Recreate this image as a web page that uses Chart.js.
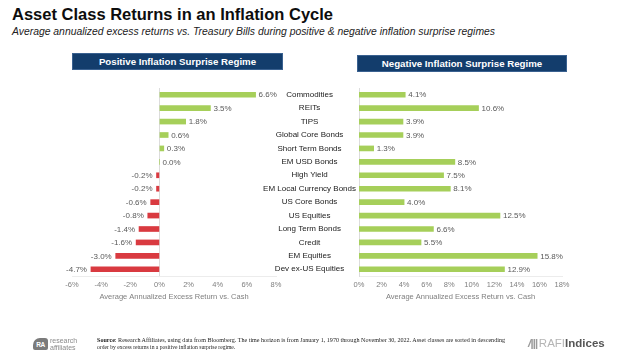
<!DOCTYPE html>
<html><head><meta charset="utf-8">
<script src="https://cdn.jsdelivr.net/npm/chart.js@4.4.0/dist/chart.umd.min.js"></script>
<style>
html,body{margin:0;padding:0;}
body{width:624px;height:357px;background:#fff;position:relative;overflow:hidden;font-family:"Liberation Sans",Arial,sans-serif;}
canvas{position:absolute;left:0;top:0;}
.fit{position:absolute;white-space:nowrap;transform-origin:0 0;line-height:1;}
#title{left:12px;top:6px;font-size:16.5px;font-weight:bold;color:#0d0d0d;}
#subtitle{left:12px;top:26.5px;font-size:10px;font-style:italic;color:#222;}
.hdr{position:absolute;background:#133d6c;border:1px solid #3a6190;box-sizing:border-box;color:#fff;font-weight:bold;font-size:9.7px;text-align:center;}
#h1{left:72px;top:53px;width:211px;height:17px;line-height:15px;}
#h2{left:357px;top:55px;width:210px;height:17px;line-height:15px;}
#ralogo{position:absolute;left:33px;top:338px;width:15px;height:12px;background:#7b7b7b;border-radius:7px 3px 2px 2px;color:#fff;font-size:6.5px;font-weight:bold;line-height:13px;text-align:center;letter-spacing:-0.5px;}
#ratext{position:absolute;left:50px;top:337px;font-size:7px;line-height:7px;color:#8a8a8a;}
#src1{left:97px;top:338px;font-family:"Liberation Serif","DejaVu Serif",serif;font-size:5.6px;color:#222;}
#src2{left:97px;top:345px;font-family:"Liberation Serif","DejaVu Serif",serif;font-size:5.6px;color:#222;}
#rafi{position:absolute;left:528px;top:337px;font-size:11.5px;line-height:12px;white-space:nowrap;}
#rafi .ic{display:inline-block;font-weight:bold;color:#9a9a9a;font-style:italic;letter-spacing:-1px;margin-right:2px;}
#rafi .r{color:#b5b5b5;}
#rafi .i{color:#555;font-weight:bold;}
</style></head>
<body>
<div id="title" class="fit">Asset Class Returns in an Inflation Cycle</div>
<div id="subtitle" class="fit">Average annualized excess returns vs. Treasury Bills during positive &amp; negative inflation surprise regimes</div>
<div id="h1" class="hdr">Positive Inflation Surprise Regime</div>
<div id="h2" class="hdr">Negative Inflation Surprise Regime</div>
<canvas id="cLeft" width="624" height="357"></canvas>
<canvas id="cRight" width="624" height="357"></canvas>
<div id="ralogo">RA</div>
<div id="ratext">research<br>affiliates</div>
<div id="src1" class="fit"><b>Source</b>: Research Affiliates, using data from Bloomberg. The time horizon is from January 1, 1970 through November 30, 2022. Asset classes are sorted in descending</div>
<div id="src2" class="fit">order by excess returns in a positive inflation surprise regime.</div>
<div id="rafi"><span class="ic">/|||</span><span class="r">RAFI</span><span class="i">Indices</span></div>
<script>
// ---- data ----
const categories = ["Commodities","REITs","TIPS","Global Core Bonds","Short Term Bonds","EM USD Bonds","High Yield","EM Local Currency Bonds","US Core Bonds","US Equities","Long Term Bonds","Credit","EM Equities","Dev ex-US Equities"];
const positiveRegime = [6.6,3.5,1.8,0.6,0.3,0.0,-0.2,-0.2,-0.6,-0.8,-1.4,-1.6,-3.0,-4.7];
const negativeRegime = [4.1,10.6,3.9,3.9,1.3,8.5,7.5,8.1,4.0,12.5,6.6,5.5,15.8,12.9];
const leftAxisRange = [-6, 8];
const rightAxisRange = [0, 18];
const tickStep = 2;
const axisTitle = "Average Annualized Excess Return vs. Cash";

// ---- fit text widths ----
function fitWidth(id, w){const el=document.getElementById(id);const cw=el.getBoundingClientRect().width;el.style.transform='scaleX('+(w/cw)+')';}
fitWidth('title',321);
fitWidth('subtitle',483);
fitWidth('src1',408);

const GREEN='#a6cf5a', RED='#d93a40';
const FONT='"Liberation Sans", Arial, sans-serif';

const valueLabels = {
  id:'valueLabels',
  afterDatasetsDraw(chart){
    const ctx=chart.ctx, meta=chart.getDatasetMeta(0), data=chart.data.datasets[0].data;
    ctx.save();
    ctx.font='8px '+FONT; ctx.fillStyle='#595959'; ctx.textBaseline='middle';
    meta.data.forEach((bar,i)=>{
      const v=data[i], t=v.toFixed(1)+'%';
      if(v<0){ctx.textAlign='right';ctx.fillText(t,bar.x-4,bar.y+0.5);}
      else {ctx.textAlign='left';ctx.fillText(t,bar.x+3,bar.y+0.5);}
    });
    ctx.restore();
  }
};

function xScale(range, zeroGrid){
  return {
    type:'linear', min:range[0], max:range[1],
    ticks:{stepSize:tickStep, padding:4, color:'#7f7f7f', font:{family:FONT,size:7.5}, callback:v=>v+'%', maxRotation:0},
    grid:{display:zeroGrid, drawTicks:false, color:c=>(c.tick && c.tick.value===0)?'#dcdcdc':'rgba(0,0,0,0)'},
    border:{display:true, color:'#ececec'},
    title:{display:true, text:axisTitle, color:'#7f7f7f', font:{family:FONT,size:7.5}, padding:0},
    afterFit:s=>{s.height=25;}
  };
}

new Chart(document.getElementById('cLeft'),{
  type:'bar',
  data:{labels:categories,datasets:[{data:positiveRegime,backgroundColor:positiveRegime.map(v=>v<0?RED:GREEN),barThickness:5}]},
  options:{
    indexAxis:'y', responsive:false, animation:false, devicePixelRatio:1,
    layout:{padding:{left:72,right:348,top:88,bottom:56}},
    plugins:{legend:{display:false},tooltip:{enabled:false}},
    scales:{x:xScale(leftAxisRange,true), y:{display:false}}
  },
  plugins:[valueLabels]
});

new Chart(document.getElementById('cRight'),{
  type:'bar',
  data:{labels:categories,datasets:[{data:negativeRegime,backgroundColor:GREEN,barThickness:5}]},
  options:{
    indexAxis:'y', responsive:false, animation:false, devicePixelRatio:1,
    layout:{padding:{left:262,right:62,top:88,bottom:56}},
    plugins:{legend:{display:false},tooltip:{enabled:false}},
    scales:{
      x:xScale(rightAxisRange,false),
      y:{position:'left', ticks:{crossAlign:'center', padding:3, color:'#1a1a1a', font:{family:FONT,size:8}},
         grid:{display:false, drawTicks:false}, border:{display:true,color:'#dcdcdc'},
         afterFit:s=>{s.width=97;}}
    }
  },
  plugins:[valueLabels]
});
</script>
</body></html>
